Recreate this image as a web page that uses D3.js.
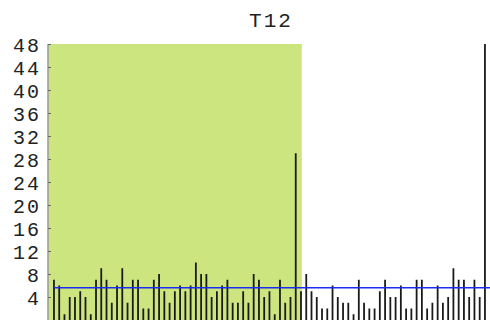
<!DOCTYPE html>
<html>
<head>
<meta charset="utf-8">
<script src="https://cdn.jsdelivr.net/npm/d3@7"></script>
<style>
  html, body { margin: 0; padding: 0; background: #fff; }
  svg { display: block; }
</style>
</head>
<body>
<svg id="chart" width="490" height="324"></svg>
<script>
// Series T12: one value per observation, drawn as vertical spikes
const titleText = "T12";
const values = [
  7, 6, 1, 4, 4, 5, 4, 1, 7, 9,
  7, 3, 6, 9, 3, 7, 7, 2, 2, 7,
  8, 5, 3, 5, 6, 5, 6, 10, 8, 8,
  4, 5, 6, 7, 3, 3, 5, 3, 8, 7,
  4, 5, 1, 7, 3, 4, 29, 5,
  8, 5, 4, 2, 2, 6, 4, 3, 3, 1,
  7, 3, 2, 2, 5, 7, 4, 4, 6, 2,
  2, 7, 7, 2, 3, 6, 3, 4, 9, 7,
  7, 4, 7, 4, 48
];
// Observations 0..shadedLast fall in the highlighted period
const shadedLast = 47;
// Reference level drawn across the whole plot
const referenceLevel = 5.6;
const yTicks = [4, 8, 12, 16, 20, 24, 28, 32, 36, 40, 44, 48];

const monoFont = "'Liberation Mono', 'DejaVu Sans Mono', monospace";

const svg = d3.select("#chart");
const plot = { left: 48, right: 490, top: 44, bottom: 320 };

const x = d3.scaleLinear()
  .domain([-1, values.length])
  .range([48.7, 48.7 + 5.256 * (values.length + 1)]);
const y = d3.scaleLinear()
  .domain([0, 48])
  .range([plot.bottom, plot.top]);

// Highlighted period background
svg.append("rect")
  .attr("x", plot.left + 0.5)
  .attr("y", y(48))
  .attr("width", x(shadedLast) + 0.8 - (plot.left + 0.5))
  .attr("height", y(0) - y(48))
  .attr("fill", "#cde57f");

// Spikes
svg.append("g")
  .selectAll("line")
  .data(values)
  .join("line")
  .attr("x1", (d, i) => x(i))
  .attr("x2", (d, i) => x(i))
  .attr("y1", y(0))
  .attr("y2", d => y(d))
  .attr("stroke", "#1a1a1a")
  .attr("stroke-width", 1.8);

// Reference line
svg.append("line")
  .attr("x1", x(0))
  .attr("x2", plot.right)
  .attr("y1", y(referenceLevel))
  .attr("y2", y(referenceLevel))
  .attr("stroke", "#1a2cf0")
  .attr("stroke-width", 1.6);

// Y axis with short inward ticks
const yAxis = d3.axisLeft(y)
  .tickValues(yTicks)
  .tickSize(-3)
  .tickPadding(7)
  .tickFormat(d3.format("d"));

const gy = svg.append("g")
  .attr("transform", `translate(${plot.left},0)`)
  .call(yAxis)
  .attr("font-family", null)
  .attr("font-size", null);
gy.select(".domain")
  .attr("d", `M0,${y(48)}V${y(0)}`)
  .attr("stroke", "#666")
  .attr("stroke-width", 1);
gy.selectAll(".tick line").attr("stroke", "#666");
gy.selectAll(".tick text")
  .style("font-family", monoFont)
  .style("font-size", "20px")
  .style("letter-spacing", "2px")
  .attr("fill", "#222")
  .attr("dy", "0.36em");

// Title
svg.append("text")
  .attr("x", 271)
  .attr("y", 27)
  .attr("text-anchor", "middle")
  .style("font-family", monoFont)
  .style("font-size", "21px")
  .style("letter-spacing", "2px")
  .attr("fill", "#222")
  .text(titleText);
</script>
</body>
</html>
